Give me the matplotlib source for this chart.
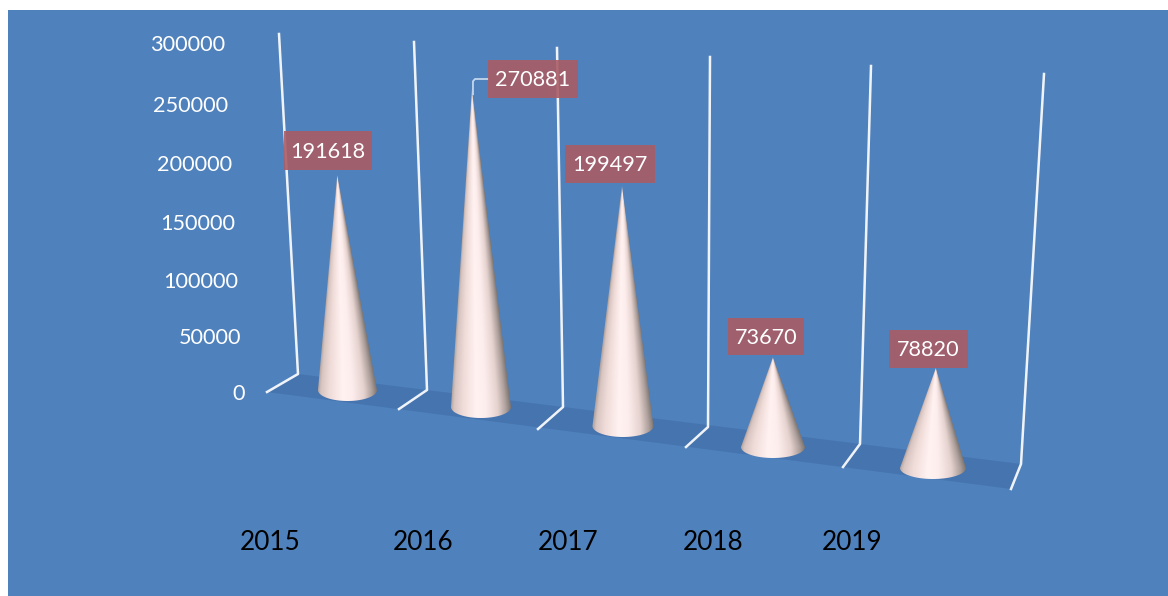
import numpy as np
import matplotlib
matplotlib.use("Agg")
import matplotlib.pyplot as plt
from matplotlib.colors import LinearSegmentedColormap
from matplotlib.patches import Polygon, Rectangle

years = ["2015", "2016", "2017", "2018", "2019"]
sales = [191618, 270881, 199497, 73670, 78820]
axis_ticks = [0, 50000, 100000, 150000, 200000, 250000, 300000]
axis_max = 300000

W, H = 1168, 596
BG = "#4f81bd"
FLOOR = "#4674ae"
FONT = "Lato"

# Perspective frame of the 3-D scene, in canvas pixels
wall_front = [(267, 392), (399, 409), (538, 429), (686, 447), (843, 467), (1011, 489)]
wall_base = [(298, 374), (427, 390), (563, 407), (708, 427), (860, 444), (1021, 464)]
wall_top = [(279, 34), (414, 42), (557, 48), (710, 57), (871, 66), (1044, 74)]

# Cone placement: base centre, base radii, full-scale height and lean per category
base_x = [347.5, 481, 623, 773, 933]
base_y = [390, 407, 426, 447, 468]
radius_x = [29.5, 30, 30.5, 32, 33]
radius_y = [11, 11, 11, 11, 11]
full_height = [337, 353, 361, 366, 381]
full_lean = [-16, -10, -1.5, 0, 11]

# Label boxes as (left, top, right, bottom)
label_boxes = [(284, 131, 372, 170), (488, 60, 578, 98), (565, 145, 655, 183),
               (728, 318, 804, 355), (889, 330, 968, 368)]
year_x = [270.5, 423, 568, 713, 852]

cone_cmap = LinearSegmentedColormap.from_list(
    "cone",
    [(0.0, "#b5a6a2"), (0.05, "#d8c5c1"), (0.2, "#f0dcd9"), (0.42, "#fff2f1"),
     (0.58, "#fdeeed"), (0.78, "#e6d3d0"), (0.92, "#ad9f9b"), (1.0, "#7e7672")],
)


def draw_cone(ax, cx, cy, rx, ry, value, height, lean):
    """Draw one shaded cone whose height follows its value."""
    frac = value / axis_max
    ax_x, ax_y = cx + lean * frac, cy - height * frac

    # Outline: the two flanks closed by the front half of the base ellipse
    theta = np.linspace(0, np.pi, 60)
    arc = np.column_stack([cx + rx * np.cos(theta), cy + ry * np.sin(theta)])
    outline = np.vstack([[ax_x, ax_y], arc])

    left, right = cx - rx - 1, cx + rx + 1
    top, bottom = ax_y - 1, cy + ry + 1
    xs = np.linspace(left, right, 240)
    ys = np.linspace(top, bottom, 480)
    gx, gy = np.meshgrid(xs, ys)

    # Shade by position across the cone at each height, so it reads as round
    t = np.clip((gy - ax_y) / (cy - ax_y), 0.001, 1.0)
    mid = ax_x + (cx - ax_x) * t
    half = rx * t
    u = np.clip((gx - mid) / (2 * half) + 0.5, 0, 1)

    img = ax.imshow(cone_cmap(u), extent=(left, right, bottom, top),
                    origin="upper", aspect="auto", zorder=4, interpolation="bilinear")
    clip = Polygon(outline, closed=True, transform=ax.transData, facecolor="none", edgecolor="none")
    ax.add_patch(clip)
    img.set_clip_path(clip)
    return ax_x, ax_y


fig = plt.figure(figsize=(W / 100, H / 100), dpi=100, facecolor="white")
ax = fig.add_axes([0, 0, 1, 1])
ax.set_axis_off()

ax.add_patch(Rectangle((8, 10), W - 8, H - 10, facecolor=BG, edgecolor="none", zorder=0))

# Floor
floor_pts = [wall_base[0], wall_base[-1], wall_front[-1], wall_front[0]]
ax.add_patch(Polygon(floor_pts, closed=True, facecolor=FLOOR, edgecolor="none", zorder=1))

# Gridlines running along the floor and up the back wall
for front, base, top in zip(wall_front, wall_base, wall_top):
    px, py = zip(front, base, top)
    ax.plot(px, py, color="white", lw=1.8, solid_joinstyle="round", zorder=2, alpha=0.92)

# Value axis labels, spaced with a slight foreshortening
for tick in axis_ticks:
    t = tick / axis_max
    s = t / (1 + 0.053 * (1 - t))
    ax.text(245 - 20 * s, 394 - 349 * s, str(tick), color="white", fontsize=15.6,
            family=FONT, ha="right", va="center", zorder=6)

# Category labels
for x, year in zip(year_x, years):
    ax.text(x, 543, year, color="black", fontsize=18.8, family=FONT,
            ha="center", va="center", zorder=6)

# Cones and their value labels
apexes = []
for i, value in enumerate(sales):
    apexes.append(draw_cone(ax, base_x[i], base_y[i], radius_x[i], radius_y[i],
                            value, full_height[i], full_lean[i]))

for value, box in zip(sales, label_boxes):
    l, t, r, b = box
    ax.add_patch(Rectangle((l, t), r - l, b - t, facecolor="#a95c64", edgecolor="none",
                           alpha=0.9, zorder=7))
    ax.text((l + r) / 2, (t + b) / 2 + 1, str(value), color="white", fontsize=15.6,
            family=FONT, ha="center", va="center", zorder=8)

# Leader line from the 2016 label down to its cone
lead_x, lead_y = apexes[1]
ax.plot([label_boxes[1][0], lead_x + 3, lead_x + 1, lead_x + 1],
        [(label_boxes[1][1] + label_boxes[1][3]) / 2] * 2 + [lead_y - 7, lead_y + 6],
        color="#c3d7ee", lw=1.3, zorder=5)

ax.set_xlim(0, W)
ax.set_ylim(H, 0)

fig.savefig("out.png", dpi=100, facecolor="white")
